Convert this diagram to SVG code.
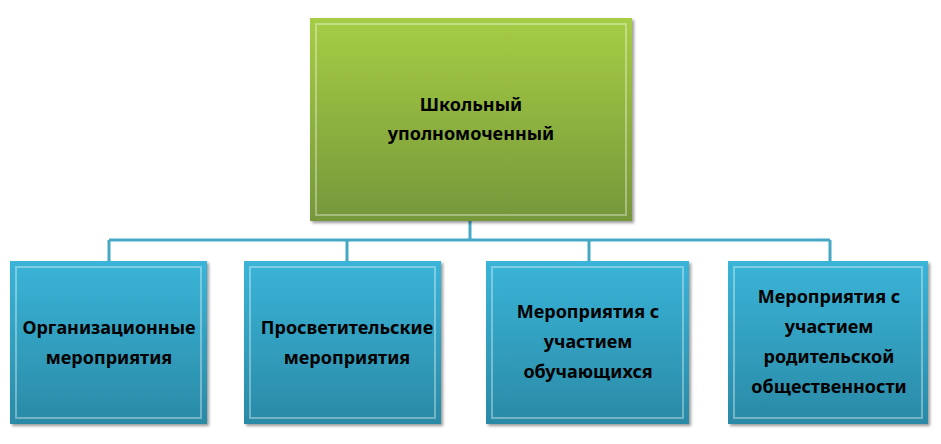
<svg xmlns="http://www.w3.org/2000/svg" width="941" height="444" viewBox="0 0 941 444">
<defs>
<linearGradient id="g" x1="0" y1="0" x2="0" y2="1"><stop offset="0" stop-color="#a6cd45"/><stop offset="1" stop-color="#76973a"/></linearGradient>
<linearGradient id="b" x1="0" y1="0" x2="0" y2="1"><stop offset="0" stop-color="#3ab4d8"/><stop offset="1" stop-color="#2a8aa6"/></linearGradient>
<filter id="s" x="-5%" y="-5%" width="115%" height="115%"><feDropShadow dx="2" dy="2" stdDeviation="1.5" flood-opacity="0.4"/></filter>
</defs>
<style>
.t{font-family:"Noto Sans","Open Sans",sans-serif;font-weight:bold;font-size:18px;fill:#000;text-anchor:middle}
.c{fill:none;stroke:#45a8c4;stroke-width:3}
.bv{fill:none;stroke:#fff;stroke-opacity:0.35;stroke-width:2}
</style>
<rect width="941" height="444" fill="#fff"/>
<g id="connectors">
<path class="c" d="M470 221V240M109 240H830M109 240V261M347 240V261M589 240V261M830 240V261"/>
</g>
<g id="root"><rect x="310" y="18" width="322" height="203" fill="url(#g)" filter="url(#s)"/><rect class="bv" x="316" y="24" width="310" height="191"/>
<text class="t" x="471" y="111">Школьный</text><text class="t" x="471" y="140">уполномоченный</text></g>
<g id="n1"><rect x="10" y="261" width="197" height="163" fill="url(#b)" filter="url(#s)"/><rect class="bv" x="16" y="267" width="185" height="151"/>
<text class="t" x="109" y="334">Организационные</text><text class="t" x="109" y="364">мероприятия</text></g>
<g id="n2"><rect x="244" y="261" width="197" height="163" fill="url(#b)" filter="url(#s)"/><rect class="bv" x="250" y="267" width="185" height="151"/>
<text class="t" x="347" y="334">Просветительские</text><text class="t" x="347" y="364">мероприятия</text></g>
<g id="n3"><rect x="486" y="261" width="203" height="163" fill="url(#b)" filter="url(#s)"/><rect class="bv" x="492" y="267" width="191" height="151"/>
<text class="t" x="588" y="318">Мероприятия с</text><text class="t" x="588" y="348">участием</text><text class="t" x="588" y="378">обучающихся</text></g>
<g id="n4"><rect x="728" y="261" width="200" height="163" fill="url(#b)" filter="url(#s)"/><rect class="bv" x="734" y="267" width="188" height="151"/>
<text class="t" x="829" y="303">Мероприятия с</text><text class="t" x="829" y="333">участием</text><text class="t" x="829" y="363">родительской</text><text class="t" x="829" y="393">общественности</text></g>
</svg>
